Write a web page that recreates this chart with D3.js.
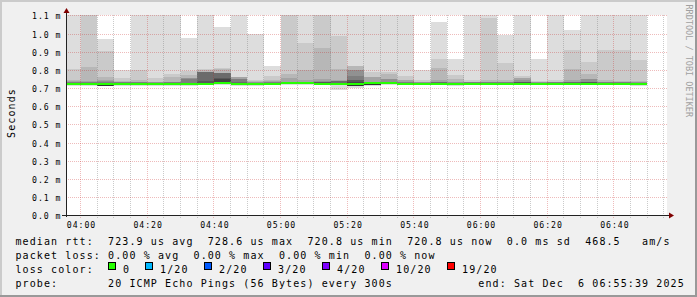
<!DOCTYPE html>
<html>
<head>
<meta charset="utf-8">
<script src="https://cdn.jsdelivr.net/npm/d3@7"></script>
<style>
  html, body { margin: 0; padding: 0; background: #f0f0f0; }
  svg { display: block; }
  text { font-family: "DejaVu Sans Mono", monospace; fill: #000; }
</style>
</head>
<body>
<svg id="chart" width="697" height="297"></svg>
<script>
// ---- data (ms) ----
const day = "2025-12-06";
const startTime = "03:55:39";
const endTime = "06:55:39";

// end time of each 5 minute step
const barEnd = ["04:00","04:05","04:10","04:15","04:20","04:25","04:30","04:35","04:40","04:45",
  "04:50","04:55","05:00","05:05","05:10","05:15","05:20","05:25","05:30","05:35",
  "05:40","05:45","05:50","05:55","06:00","06:05","06:10","06:15","06:20","06:25",
  "06:30","06:35","06:40","06:45","06:50"];

const median = [0.7225,0.7225,0.7208,0.722,0.722,0.7215,0.722,0.7225,0.7235,0.7286,
  0.723,0.7215,0.724,0.728,0.727,0.726,0.724,0.724,0.7275,0.727,
  0.724,0.724,0.724,0.722,0.724,0.724,0.724,0.725,0.724,0.724,
  0.724,0.724,0.724,0.724,0.7208];

// sorted pings, upper half (p20 = slowest of 20)
const p20 = [1.2,1.2,0.969,0.799,1.2,1.2,1.2,0.976,1.2,1.036,
  1.2,1.000,0.823,1.2,1.2,1.2,1.2,1.2,1.2,1.2,
  1.2,0.800,1.062,0.860,1.2,1.2,0.994,1.2,0.860,1.2,
  1.023,1.2,1.2,1.2,1.2];
const p19 = [0.808,1.2,0.905,0.755,0.800,0.756,0.781,0.794,0.808,0.810,
  0.762,0.745,0.767,1.2,0.950,1.2,0.988,0.821,0.790,0.790,
  0.765,0.743,0.860,0.775,0.745,1.085,0.840,0.767,0.740,0.745,
  0.913,0.845,0.912,0.908,0.854];
const p18 = [0.745,0.817,0.763,0.742,0.744,0.737,0.763,0.772,0.800,0.808,
  0.761,0.738,0.745,0.781,0.800,0.921,0.805,0.820,0.763,0.776,
  0.746,0.736,0.810,0.750,0.737,0.745,0.745,0.756,0.735,0.737,
  0.808,0.778,0.745,0.742,0.740];
const p17 = [0.740,0.740,0.745,0.736,0.736,0.735,0.737,0.755,0.790,0.786,
  0.760,0.734,0.738,0.754,0.745,0.750,0.745,0.800,0.762,0.750,
  0.745,0.734,0.745,0.735,0.734,0.737,0.737,0.755,0.733,0.734,
  0.745,0.752,0.737,0.736,0.736];
const p16 = [0.735,0.736,0.738,0.734,0.734,0.733,0.734,0.754,0.789,0.785,
  0.752,0.732,0.735,0.737,0.737,0.740,0.740,0.800,0.736,0.749,
  0.733,0.732,0.737,0.733,0.733,0.735,0.735,0.744,0.732,0.733,
  0.737,0.751,0.735,0.734,0.733];
const p15 = [0.732,0.732,0.733,0.732,0.732,0.731,0.732,0.753,0.788,0.785,
  0.751,0.730,0.733,0.735,0.735,0.736,0.739,0.770,0.735,0.736,
  0.732,0.731,0.734,0.731,0.732,0.733,0.733,0.736,0.731,0.732,
  0.734,0.736,0.733,0.732,0.731];
const p14 = [0.730,0.730,0.730,0.730,0.730,0.730,0.730,0.731,0.787,0.784,
  0.735,0.729,0.731,0.734,0.734,0.734,0.738,0.746,0.734,0.735,
  0.731,0.730,0.732,0.729,0.731,0.731,0.731,0.734,0.730,0.731,
  0.732,0.734,0.731,0.731,0.729];
const p13 = [0.728,0.728,0.728,0.728,0.728,0.728,0.728,0.729,0.741,0.754,
  0.731,0.728,0.730,0.733,0.733,0.732,0.731,0.745,0.733,0.734,
  0.730,0.729,0.730,0.728,0.730,0.730,0.730,0.732,0.729,0.730,
  0.730,0.732,0.730,0.730,0.727];
const p12 = [0.727,0.727,0.726,0.727,0.727,0.727,0.727,0.728,0.731,0.753,
  0.729,0.727,0.729,0.732,0.732,0.731,0.730,0.733,0.732,0.733,
  0.729,0.728,0.729,0.727,0.729,0.729,0.729,0.731,0.728,0.729,
  0.729,0.731,0.729,0.729,0.726];
// lower half: fastest ping and the next ones
const pMin = [0.7145,0.7145,0.711,0.714,0.714,0.7135,0.714,0.7145,0.7155,0.7205,
  0.715,0.7135,0.716,0.720,0.719,0.718,0.693,0.704,0.714,0.719,
  0.716,0.716,0.716,0.714,0.716,0.716,0.716,0.717,0.716,0.716,
  0.716,0.716,0.716,0.716,0.7128];
const pLow = [0.7175,0.7175,0.713,0.717,0.717,0.7165,0.717,0.7175,0.7185,0.7235,
  0.718,0.7165,0.719,0.723,0.722,0.721,0.716,0.715,0.716,0.722,
  0.719,0.719,0.719,0.717,0.719,0.719,0.719,0.720,0.719,0.719,
  0.719,0.719,0.719,0.719,0.7158];

const yTicks = [0, 0.1, 0.2, 0.3, 0.4, 0.5, 0.6, 0.7, 0.8, 0.9, 1.0, 1.1];
const yTickLabels = ["0.0 m","0.1 m","0.2 m","0.3 m","0.4 m","0.5 m","0.6 m","0.7 m","0.8 m","0.9 m","1.0 m","1.1 m"];
const xTickLabels = ["04:00","04:20","04:40","05:00","05:20","05:40","06:00","06:20","06:40"];

const lossLabels = ["0","1/20","2/20","3/20","4/20","10/20","19/20"];
const lossColors = ["#26ff00","#00b8ff","#0059ff","#5e00ff","#7e00ff","#dd00ff","#ff0000"];

const legendLines = [
  "median rtt:  723.9 us avg  728.6 us max  720.8 us min  720.8 us now  0.0 ms sd  468.5   am/s",
  "packet loss: 0.00 % avg  0.00 % max  0.00 % min  0.00 % now",
  "loss color:",
  "probe:       20 ICMP Echo Pings (56 Bytes) every 300s            end: Sat Dec  6 06:55:39 2025"
];

// ---- drawing ----
const W = 697, H = 297;
const parseT = d3.timeParse("%Y-%m-%d %H:%M:%S");
const tStart = parseT(`${day} ${startTime}`);
const tEnd = parseT(`${day} ${endTime}`);
const step = 5 * 60 * 1000;

const x = d3.scaleTime().domain([tStart, tEnd]).range([66, 666]);
const y = d3.scaleLinear().domain([0, 1.1]).range([215.5, 15.5]);
const swidth = 1.1 / 200; // half height of the median line

const svg = d3.select("#chart");

// background + 3d frame
svg.append("rect").attr("width", W).attr("height", H).attr("fill", "#f0f0f0");
svg.append("rect").attr("x", 0).attr("y", 0).attr("width", W).attr("height", 2).attr("fill", "#cbcbcb");
svg.append("rect").attr("x", 0).attr("y", 0).attr("width", 2).attr("height", H).attr("fill", "#cbcbcb");
svg.append("rect").attr("x", 0).attr("y", H - 2).attr("width", W).attr("height", 2).attr("fill", "#999");
svg.append("rect").attr("x", W - 2).attr("y", 0).attr("width", 2).attr("height", H).attr("fill", "#999");

// canvas
svg.append("rect").attr("x", 66).attr("y", 15).attr("width", 601).attr("height", 201).attr("fill", "#fff");

svg.append("clipPath").attr("id", "plotclip")
  .append("rect").attr("x", 66).attr("y", 15).attr("width", 600).attr("height", 201);

const plot = svg.append("g").attr("clip-path", "url(#plotclip)");

// smoke: band k spans [lower k, upper 21-k], inner bands darker
const upper = [p20, p19, p18, p17, p16, p15, p14, p13, p12, median];
const bands = [];
barEnd.forEach((e, i) => {
  const t1 = parseT(`${day} ${e}:00`);
  const t0 = new Date(Math.max(+tStart, +t1 - step));
  upper.forEach((u, k) => {
    bands.push({ t0, t1, k, hi: u[i], lo: k === 0 ? pMin[i] : pLow[i] });
  });
});
const shade = k => {
  const c = Math.floor(190 / 10 * (10 - (k + 1))) + 50;
  return d3.rgb(c, c, c).formatHex();
};

plot.selectAll(".smoke")
  .data(bands)
  .enter().append("rect")
  .attr("class", "smoke")
  .attr("x", d => x(d.t0))
  .attr("width", d => x(d.t1) - x(d.t0))
  .attr("y", d => y(d.hi))
  .attr("height", d => Math.max(0, y(d.lo) - y(d.hi)))
  .attr("fill", d => shade(d.k))
  .attr("shape-rendering", "crispEdges");

// median rtt, coloured by loss (0 everywhere)
plot.selectAll(".median")
  .data(barEnd.map((e, i) => {
    const t1 = parseT(`${day} ${e}:00`);
    return { t0: new Date(Math.max(+tStart, +t1 - step)), t1, m: median[i] };
  }))
  .enter().append("rect")
  .attr("class", "median")
  .attr("x", d => x(d.t0))
  .attr("width", d => x(d.t1) - x(d.t0))
  .attr("y", d => y(d.m + swidth))
  .attr("height", d => y(d.m - swidth) - y(d.m + swidth))
  .attr("fill", lossColors[0])
  .attr("shape-rendering", "crispEdges");

// grid
const grid = svg.append("g").attr("shape-rendering", "crispEdges").attr("stroke-dasharray", "1,1");
const minorColor = "rgba(128,128,128,0.42)";
const majorColor = "rgba(200,30,30,0.3)";

const gridTimes = d3.timeMinute.every(5).range(tStart, tEnd);
grid.selectAll(".vgrid")
  .data(gridTimes)
  .enter().append("line")
  .attr("class", "vgrid")
  .attr("x1", d => Math.floor(x(d)) + 0.5)
  .attr("x2", d => Math.floor(x(d)) + 0.5)
  .attr("y1", 15)
  .attr("y2", 218)
  .attr("stroke", d => d.getMinutes() % 20 === 0 ? majorColor : minorColor);

grid.selectAll(".hgrid")
  .data(yTicks.filter(v => v > 0))
  .enter().append("line")
  .attr("class", "hgrid")
  .attr("x1", 66)
  .attr("x2", 668)
  .attr("y1", d => Math.floor(y(d) + 0.4) + 0.5)
  .attr("y2", d => Math.floor(y(d) + 0.4) + 0.5)
  .attr("stroke", majorColor);

// axes
const yAxis = d3.axisLeft(y)
  .tickValues(yTicks)
  .tickFormat((d, i) => yTickLabels[i])
  .tickSize(0)
  .tickPadding(5);
const yg = svg.append("g").attr("transform", "translate(66.5,0)").call(yAxis);
yg.select(".domain").remove();
yg.selectAll(".tick")
  .attr("transform", d => `translate(0,${Math.floor(y(d) + 0.4) + 0.5})`);
yg.selectAll("text")
  .attr("dy", 3.2)
  .style("font-family", "'DejaVu Sans Mono', monospace")
  .style("font-size", "8.2px")
  .style("letter-spacing", "0.95px")
  .attr("fill", "#000");

const xAxis = d3.axisBottom(x)
  .tickValues(xTickLabels.map(s => parseT(`${day} ${s}:00`)))
  .tickFormat((d, i) => xTickLabels[i])
  .tickSize(0);
const xg = svg.append("g").attr("transform", "translate(0,215.5)").call(xAxis);
xg.select(".domain").remove();
xg.selectAll("text")
  .attr("y", 12.5)
  .attr("dy", 0)
  .attr("dx", 0.5)
  .style("font-family", "'DejaVu Sans Mono', monospace")
  .style("font-size", "8.2px")
  .style("letter-spacing", "0.95px")
  .attr("fill", "#000");

// axis lines + arrows
svg.append("line").attr("x1", 66.5).attr("x2", 66.5).attr("y1", 217).attr("y2", 11)
  .attr("stroke", "#222").attr("shape-rendering", "crispEdges");
svg.append("line").attr("x1", 62).attr("x2", 670).attr("y1", 215.5).attr("y2", 215.5)
  .attr("stroke", "#222").attr("shape-rendering", "crispEdges");
svg.append("path").attr("d", "M63.5,13 L69.5,13 L66.5,8 Z").attr("fill", "#7f0000");
svg.append("path").attr("d", "M669,212.5 L669,218.5 L674,215.5 Z").attr("fill", "#7f0000");

// y title
svg.append("text")
  .attr("transform", "translate(15,113) rotate(-90)")
  .attr("text-anchor", "middle")
  .style("font-size", "10px")
  .style("letter-spacing", "1.1px")
  .text("Seconds");

// watermark
svg.append("text")
  .attr("transform", "translate(685.5,4.5) rotate(90)")
  .style("font-size", "8.5px")
  .style("fill", "#a0a0a0")
  .text("RRDTOOL / TOBI OETIKER");

// legend
const lineY = [245, 259, 272.5, 286.5];
const adv = 7.12;
svg.selectAll(".legline")
  .data(legendLines)
  .enter().append("text")
  .attr("class", "legline")
  .attr("x", 15.5)
  .attr("y", (d, i) => lineY[i])
  .attr("xml:space", "preserve")
  .style("white-space", "pre")
  .style("font-size", "10px")
  .style("letter-spacing", "1.1px")
  .text(d => d);

let lx = 108.5;
lossLabels.forEach((lab, i) => {
  svg.append("rect")
    .attr("x", lx).attr("y", 262.5).attr("width", 7).attr("height", 7)
    .attr("fill", lossColors[i]).attr("stroke", "#000").attr("stroke-width", 1)
    .attr("shape-rendering", "crispEdges");
  const tx = lx + 14.6;
  svg.append("text")
    .attr("x", tx).attr("y", lineY[2])
    .style("font-size", "10px")
    .style("letter-spacing", "1.1px")
    .text(lab);
  lx = Math.round(tx + lab.length * adv + 15) + 0.5;
});
</script>
</body>
</html>
